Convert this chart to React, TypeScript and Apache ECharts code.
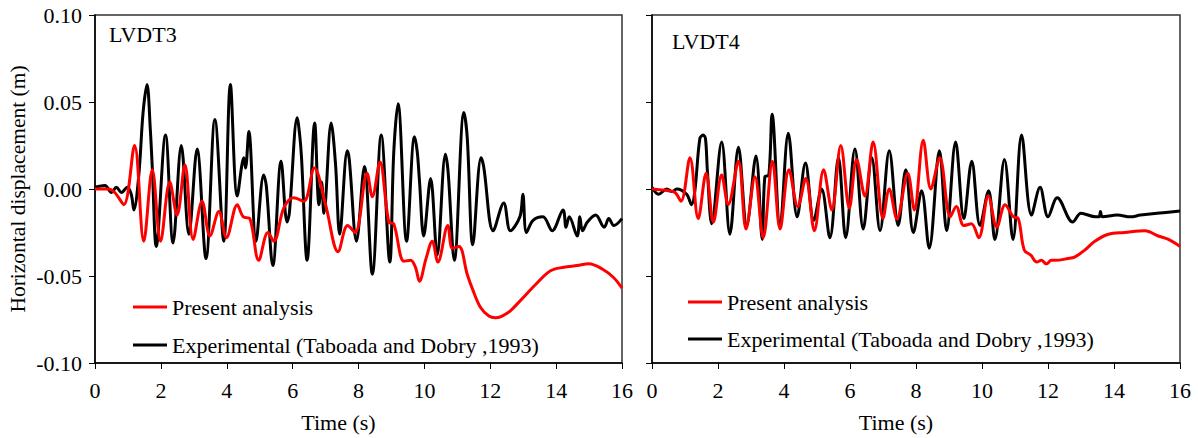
import React, { useEffect, useRef } from "react";
import * as echarts from "echarts";

const FONT = '"Liberation Serif", "Times New Roman", serif';
const FS = 22;

const xTicks = { min: 0, max: 16, interval: 2 };
const yTicks = { min: -0.1, max: 0.1, interval: 0.05 };

const panelTitles = ["LVDT3", "LVDT4"];
const seriesNames = ["Present analysis", "Experimental (Taboada and Dobry ,1993)"];

// LVDT3 - present analysis
const lvdt3PresentT = [0, 0.4, 0.6, 0.875, 1.2, 1.48, 1.74, 1.99, 2.27, 2.49, 2.73, 2.98, 3.25, 3.49, 3.76, 3.99, 4.32, 4.5, 4.7, 4.97, 5.25, 5.43, 5.73, 6.03, 6.34, 6.66, 7.0, 7.38, 7.67, 7.9, 8.26, 8.42, 8.65, 8.92, 9.07, 9.38, 9.58, 9.73, 9.85, 10.05, 10.24, 10.41, 10.71, 10.85, 11.05, 11.3, 11.45, 11.7, 11.96, 12.15, 12.36, 12.61, 12.92, 13.37, 13.83, 14.23, 14.64, 14.99, 15.4, 15.75, 16.0];
const lvdt3PresentV = [0, 0, -0.002, -0.009, 0.025, -0.03, 0.011, -0.03, 0.004, -0.015, 0.014, -0.029, -0.007, -0.027, -0.013, -0.028, -0.009, -0.016, -0.017, -0.041, -0.025, -0.03, -0.011, -0.005, -0.007, 0.012, -0.009, -0.036, -0.021, -0.025, 0.009, -0.0045, 0.0155, -0.019, -0.02, -0.0415, -0.041, -0.045, -0.053, -0.04, -0.03, -0.042, -0.021, -0.034, -0.033, -0.049, -0.057, -0.068, -0.073, -0.074, -0.073, -0.07, -0.064, -0.055, -0.047, -0.045, -0.044, -0.043, -0.046, -0.051, -0.057];

// LVDT3 - experimental
const lvdt3ExpT = [0, 0.3, 0.5, 0.65, 0.8, 0.98, 1.1, 1.18, 1.33, 1.46, 1.58, 1.68, 1.74, 1.86, 2.14, 2.37, 2.62, 2.85, 3.1, 3.37, 3.64, 3.91, 4.11, 4.32, 4.52, 4.57, 4.67, 4.89, 5.12, 5.2, 5.4, 5.65, 5.83, 5.9, 6.14, 6.22, 6.27, 6.44, 6.67, 6.8, 6.88, 6.95, 7.17, 7.3, 7.43, 7.66, 7.72, 7.94, 8.18, 8.42, 8.69, 8.95, 9.07, 9.2, 9.46, 9.7, 9.78, 9.85, 9.98, 10.19, 10.39, 10.64, 10.72, 10.91, 11.2, 11.3, 11.47, 11.72, 11.8, 12.09, 12.41, 12.61, 12.9, 12.99, 13.1, 13.3, 13.6, 13.88, 14.21, 14.3, 14.4, 14.64, 14.72, 14.8, 14.95, 15.2, 15.46, 15.6, 15.75, 16.0];
const lvdt3ExpV = [0.001, 0.002, -0.002, 0.001, -0.002, 0.001, -0.003, -0.012, 0.008, 0.044, 0.06, 0.034, 0.012, -0.033, 0.031, -0.031, 0.025, -0.026, 0.023, -0.04, 0.04, -0.03, 0.06, -0.004, 0.018, 0.012, 0.033, -0.03, 0.008, 0.002, -0.044, 0.016, -0.019, -0.014, 0.041, 0.03, 0.018, -0.041, 0.038, -0.009, 0.004, -0.014, 0.038, 0.015, -0.026, 0.022, 0.017, -0.03, 0.013, -0.049, 0.031, -0.042, 0.021, 0.049, -0.03, 0.03, 0.022, 0.005, -0.027, 0.006, -0.038, 0.02, 0.01, -0.041, 0.044, 0.03, -0.032, 0.018, 0.013, -0.024, -0.008, -0.024, -0.016, -0.003, -0.025, -0.018, -0.016, -0.024, -0.012, -0.022, -0.016, -0.027, -0.016, -0.024, -0.019, -0.015, -0.022, -0.017, -0.021, -0.017];

// LVDT4 - present analysis
const lvdt4PresentT = [0, 0.5, 0.7, 0.88, 1.15, 1.4, 1.64, 1.86, 2.11, 2.31, 2.62, 2.85, 3.12, 3.37, 3.65, 3.88, 4.15, 4.42, 4.66, 4.92, 5.2, 5.45, 5.72, 5.98, 6.2, 6.45, 6.7, 7.0, 7.19, 7.42, 7.75, 7.95, 8.22, 8.45, 8.72, 9.04, 9.22, 9.45, 9.68, 9.9, 10.19, 10.45, 10.7, 10.95, 11.1, 11.28, 11.48, 11.66, 11.8, 11.95, 12.1, 12.21, 12.6, 12.82, 13.12, 13.42, 13.83, 14.33, 14.94, 15.34, 15.65, 16.0];
const lvdt4PresentV = [0, -0.001, -0.002, -0.007, 0.018, -0.017, 0.009, -0.019, 0.008, -0.009, 0.016, -0.023, 0.007, -0.028, 0.016, -0.023, 0.011, -0.01, 0.006, -0.024, 0.011, -0.012, 0.025, -0.011, 0.017, -0.004, 0.027, -0.017, 0.0, -0.017, 0.009, -0.012, 0.028, 0.0, 0.018, -0.016, -0.01, -0.021, -0.02, -0.028, -0.004, -0.022, -0.009, -0.016, -0.017, -0.035, -0.038, -0.042, -0.041, -0.043, -0.041, -0.041, -0.04, -0.039, -0.035, -0.03, -0.026, -0.025, -0.024, -0.027, -0.029, -0.033];

// LVDT4 - experimental
const lvdt4ExpT = [0, 0.2, 0.45, 0.6, 0.75, 1.05, 1.2, 1.3, 1.45, 1.55, 1.62, 1.68, 1.81, 2.11, 2.36, 2.62, 2.87, 3.15, 3.34, 3.42, 3.54, 3.64, 3.88, 4.13, 4.4, 4.65, 4.9, 5.14, 5.39, 5.65, 5.87, 6.15, 6.4, 6.66, 6.91, 7.19, 7.46, 7.69, 7.92, 8.17, 8.4, 8.71, 8.93, 9.2, 9.45, 9.69, 9.94, 10.2, 10.39, 10.68, 10.94, 11.2, 11.5, 11.76, 12.0, 12.28, 12.75, 13.0, 13.45, 13.55, 13.59, 13.65, 14.1, 14.5, 14.8, 15.3, 16.0];
const lvdt4ExpV = [0.001, -0.003, 0.0, -0.0015, 0.0, -0.003, -0.009, -0.001, 0.029, 0.031, 0.029, 0.01, -0.02, 0.027, -0.026, 0.024, -0.021, 0.019, -0.029, 0.007, 0.008, 0.043, -0.022, 0.032, -0.016, 0.015, -0.018, 0.0, -0.028, 0.018, -0.028, 0.023, -0.023, 0.018, -0.024, 0.022, -0.021, 0.011, -0.025, -0.001, -0.034, 0.022, -0.024, 0.027, -0.017, 0.016, -0.021, -0.001, -0.029, 0.017, -0.029, 0.031, -0.015, 0.001, -0.016, -0.005, -0.019, -0.014, -0.016, -0.016, -0.013, -0.016, -0.015, -0.016, -0.015, -0.014, -0.0127];

const zip = (t: number[], v: number[]) => t.map((x, i) => [x, v[i]]);

const RED = "#ff0000";
const BLACK = "#000000";

export default function App() {
  const ref = useRef<HTMLDivElement>(null);

  useEffect(() => {
    const chart = echarts.init(ref.current!, null, { renderer: "svg" });

    const grids = [
      { left: 95, top: 15, width: 527, height: 351 },
      { left: 652, top: 15, width: 528, height: 351 },
    ];

    const xAxis = grids.map((_, i) => ({
      type: "value",
      gridIndex: i,
      min: xTicks.min,
      max: xTicks.max,
      interval: xTicks.interval,
      name: "Time (s)",
      nameLocation: "middle",
      nameGap: 48,
      nameTextStyle: { fontFamily: FONT, fontSize: FS, color: "#000", padding: [0, 40, 0, 0] },
      axisLine: { show: true, onZero: false, lineStyle: { color: "#000", width: 1.5 } },
      axisTick: { show: true, inside: false, length: 6, lineStyle: { color: "#000", width: 1 } },
      axisLabel: { fontFamily: FONT, fontSize: FS, color: "#000", margin: 16 },
      splitLine: { show: false },
    }));

    const yAxis = grids.map((_, i) => ({
      type: "value",
      gridIndex: i,
      min: yTicks.min,
      max: yTicks.max,
      interval: yTicks.interval,
      name: i === 0 ? "Horizontal displacement (m)" : "",
      nameLocation: "middle",
      nameGap: 66,
      nameTextStyle: { fontFamily: FONT, fontSize: 21.5, color: "#000" },
      axisLine: { show: true, onZero: false, lineStyle: { color: "#000", width: 1.5 } },
      axisTick: { show: true, inside: false, length: 6, lineStyle: { color: "#000", width: 1 } },
      axisLabel: {
        show: i === 0,
        fontFamily: FONT,
        fontSize: FS,
        color: "#000",
        margin: 13,
        formatter: (v: number) => (Math.abs(v) < 1e-9 ? "0.00" : v.toFixed(2)),
      },
      splitLine: { show: false },
    }));

    const lineSeries = (name: string, data: number[][], color: string, idx: number) => ({
      type: "line",
      name,
      xAxisIndex: idx,
      yAxisIndex: idx,
      data,
      showSymbol: false,
      symbol: "none",
      smooth: 0.35,
      lineStyle: { color, width: 3 },
      itemStyle: { color },
      z: color === RED ? 3 : 2,
    });

    const legendBase = {
      orient: "vertical",
      icon: "rect",
      itemWidth: 34,
      itemHeight: 3,
      textStyle: { fontFamily: FONT, fontSize: FS, color: "#000" },
      data: seriesNames,
      selectedMode: false,
    };

    chart.setOption({
      animation: false,
      backgroundColor: "#fff",
      grid: grids.map((g) => ({ ...g, show: true, borderColor: "#333", borderWidth: 1.5, backgroundColor: "transparent" })),
      xAxis,
      yAxis,
      legend: [
        { ...legendBase, left: 128, top: 291, itemGap: 16 },
        { ...legendBase, left: 683, top: 286, itemGap: 15 },
      ],
      graphic: [
        { type: "text", left: 109, top: 23, style: { text: panelTitles[0], font: `${FS}px ${FONT}`, fill: "#000" } },
        { type: "text", left: 672, top: 30, style: { text: panelTitles[1], font: `${FS}px ${FONT}`, fill: "#000" } },
      ],
      series: [
        lineSeries(seriesNames[1], zip(lvdt3ExpT, lvdt3ExpV), BLACK, 0),
        lineSeries(seriesNames[0], zip(lvdt3PresentT, lvdt3PresentV), RED, 0),
        lineSeries(seriesNames[1], zip(lvdt4ExpT, lvdt4ExpV), BLACK, 1),
        lineSeries(seriesNames[0], zip(lvdt4PresentT, lvdt4PresentV), RED, 1),
      ],
    });

    return () => chart.dispose();
  }, []);

  return (
    <div
      ref={ref}
      style={{ position: "fixed", left: 0, top: 0, width: 1198, height: 438, background: "#fff" }}
    />
  );
}
